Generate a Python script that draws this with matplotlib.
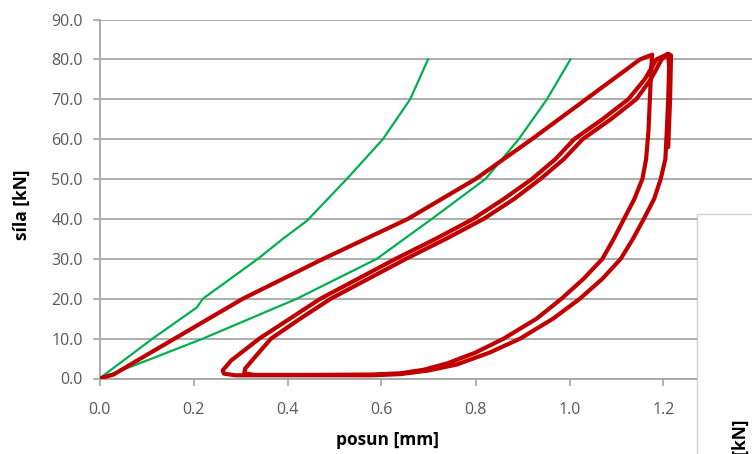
import matplotlib
matplotlib.use("Agg")
import matplotlib.pyplot as plt
from matplotlib.patches import Rectangle

# ---- data ----
# green: two reference (theoretical) loading curves
green_a_x = [0.0, 0.113, 0.207, 0.22, 0.337, 0.39, 0.441, 0.526, 0.603, 0.661, 0.699]
green_a_y = [0.0, 10.0, 17.8, 20.0, 30.0, 35.0, 39.5, 50.0, 60.0, 70.0, 80.0]

green_b_x = [0.0, 0.107, 0.22, 0.42, 0.59, 0.707, 0.821, 0.892, 0.952, 1.002]
green_b_y = [0.0, 4.8, 10.0, 20.0, 30.0, 40.0, 50.0, 60.0, 70.0, 80.0]

# red: measured force-displacement record (loading, unloading, reloading...)
red_x = [
    # first loading
    0.0, 0.03, 0.08, 0.17, 0.305, 0.476, 0.656, 0.80, 0.92, 1.035, 1.15, 1.176,
    # first unloading (inner)
    1.174, 1.171, 1.168, 1.163, 1.155, 1.138, 1.116, 1.094, 1.07, 1.03, 0.983,
    0.93, 0.86, 0.80, 0.74, 0.69, 0.64, 0.58, 0.45, 0.33, 0.308,
    # reloading (right line)
    0.31, 0.328, 0.365, 0.427, 0.492, 0.572, 0.652, 0.737, 0.817, 0.882, 0.938,
    0.988, 1.028, 1.088, 1.142, 1.173, 1.196, 1.21,
    # second unloading (outer)
    1.212, 1.21, 1.207, 1.204, 1.194, 1.18, 1.158, 1.135, 1.109, 1.07, 1.022,
    0.965, 0.895, 0.83, 0.76, 0.70, 0.64, 0.58, 0.45, 0.29, 0.265,
    # reloading (left line)
    0.262, 0.28, 0.34, 0.405, 0.47, 0.55, 0.63, 0.715, 0.795, 0.86, 0.92,
    0.97, 1.01, 1.07, 1.125, 1.16, 1.185, 1.21,
    # last unloading
    1.216, 1.214, 1.21,
]
red_y = [
    0.0, 1.0, 4.5, 10.7, 20.0, 30.0, 40.0, 50.0, 60.0, 70.0, 80.0, 81.2,
    78.0, 70.0, 62.0, 55.0, 50.0, 45.0, 40.0, 35.0, 30.0, 25.0, 20.0,
    15.0, 10.0, 6.5, 3.8, 2.2, 1.3, 1.0, 0.9, 0.9, 1.3,
    2.5, 5.0, 10.0, 15.0, 20.0, 25.0, 30.0, 35.0, 40.0, 45.0, 50.0,
    55.0, 60.0, 65.0, 70.0, 75.0, 80.0, 81.3,
    78.0, 70.0, 62.0, 55.0, 50.0, 45.0, 40.0, 35.0, 30.0, 25.0, 20.0,
    15.0, 10.0, 6.5, 3.5, 2.0, 1.1, 0.8, 0.8, 0.8, 1.2,
    2.0, 4.5, 10.0, 15.0, 20.0, 25.0, 30.0, 35.0, 40.0, 45.0, 50.0,
    55.0, 60.0, 65.0, 70.0, 75.0, 80.0, 81.4,
    81.0, 70.0, 58.0,
]

x_ticks = [0.0, 0.2, 0.4, 0.6, 0.8, 1.0, 1.2]
y_ticks = [0, 10, 20, 30, 40, 50, 60, 70, 80, 90]

GRID = "#A6A6A6"
TXT = "#595959"

plt.rcParams["font.family"] = ["Open Sans", "DejaVu Sans"]

fig = plt.figure(figsize=(7.52, 4.54), dpi=100)
# plot area runs past the right edge (the source screenshot is cropped)
ax = fig.add_axes([99.5 / 752, 75.5 / 454, 658 / 752, 359 / 454])

ax.plot(green_a_x, green_a_y, color="#00B050", lw=1.6, zorder=3)
ax.plot(green_b_x, green_b_y, color="#00B050", lw=1.6, zorder=3)
ax.plot(red_x, red_y, color="#C00000", lw=3.0, zorder=4,
        solid_joinstyle="round", solid_capstyle="round")

ax.set_xlim(0, 1.4)
ax.set_ylim(0, 90)
ax.set_xticks(x_ticks)
ax.set_xticklabels([f"{v:.1f}" for v in x_ticks])
ax.set_yticks(y_ticks)
ax.set_yticklabels([f"{v:.1f}" for v in y_ticks])

ax.grid(axis="y", color=GRID, lw=1.3)
ax.set_axisbelow(True)
for side in ("top", "right"):
    ax.spines[side].set_visible(False)
for side in ("left", "bottom"):
    ax.spines[side].set_color(GRID)
    ax.spines[side].set_linewidth(1.3)
ax.tick_params(axis="both", direction="out", length=5, width=1.2,
               color=GRID, labelcolor=TXT, labelsize=11.5)
ax.tick_params(axis="x", pad=12)
ax.tick_params(axis="y", pad=7)

ax.set_xlabel("posun [mm]", fontsize=12.5, fontweight="bold", color="black")
ax.set_ylabel("síla [kN]", fontsize=12.5, fontweight="bold", color="black")
ax.xaxis.set_label_coords((388 - 99.5) / 658, -0.145)
ax.yaxis.set_label_coords(-0.105, 0.483)

# neighbouring chart overlapping the lower right corner
fig.add_artist(Rectangle((697 / 752, -0.01), 0.2, 240 / 454 + 0.01,
                         transform=fig.transFigure, facecolor="white",
                         edgecolor="#D0D0D0", lw=1.0, zorder=10))
fig.text(741 / 752, 34 / 454, "síla [kN]", rotation=90, ha="center", va="top",
         fontsize=12.5, fontweight="bold", color="black", zorder=11)

fig.savefig("out.png", dpi=100)
